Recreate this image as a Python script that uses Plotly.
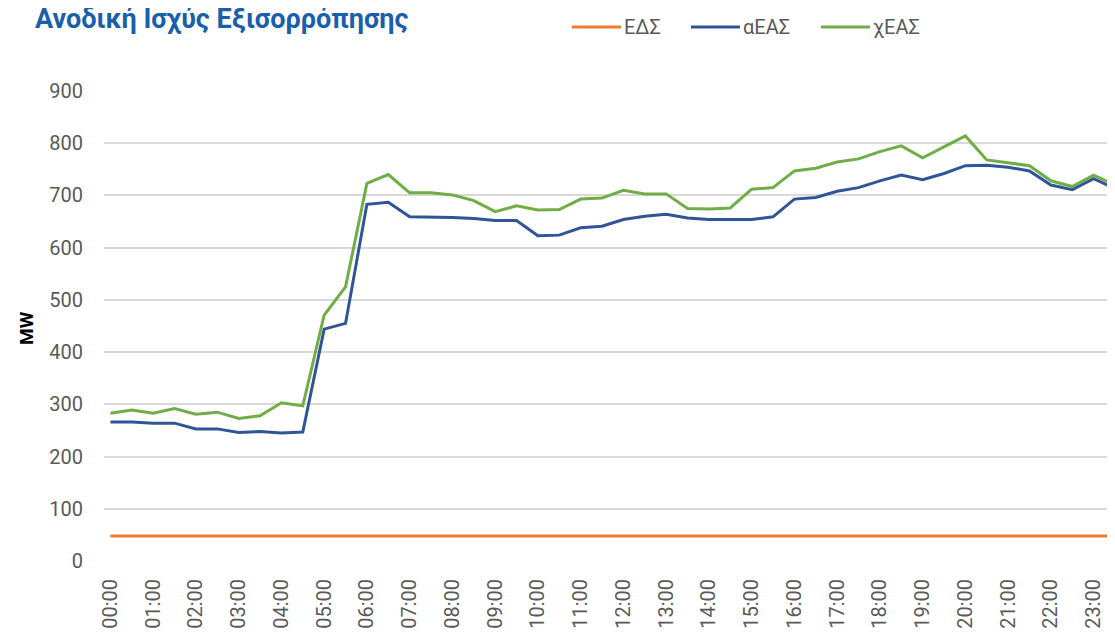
import plotly.graph_objects as go

times = [f"{h:02d}:{m:02d}" for h in range(24) for m in (0, 30)]
hour_labels = [f"{h:02d}:00" for h in range(24)]

eds = [48] * 48

aeas = [266, 266, 264, 264, 253, 253, 246, 248, 245, 247,
        444, 455, 683, 687, 659, 659, 658, 656, 652, 652,
        623, 624, 638, 641, 654, 660, 664, 657, 654, 654,
        654, 659, 693, 696, 708, 715, 728, 739, 730, 742,
        757, 758, 754, 747, 720, 711, 732, 713]

xeas = [283, 289, 283, 292, 281, 285, 273, 278, 303, 297,
        471, 525, 723, 740, 705, 705, 701, 690, 669, 680,
        672, 673, 693, 695, 710, 703, 703, 675, 674, 676,
        712, 715, 747, 752, 764, 770, 784, 795, 772, 793,
        814, 768, 762, 757, 728, 717, 739, 720]

series = [("ΕΔΣ", eds, "#ED7D31"), ("αΕΑΣ", aeas, "#2F5597"), ("χΕΑΣ", xeas, "#70AD47")]

fig = go.Figure()
for name, vals, col in series:
    fig.add_trace(go.Scatter(x=times, y=vals, mode="lines", name=name,
                             line=dict(color=col, width=3), showlegend=False))

OFF = 8  # page body margin
W, H = 1115 - OFF, 637 - 2 * OFF
L, R, T = 104 - OFF, 0, 91 - OFF
B = H - (561 - OFF)
pw, ph = W - L - R, H - T - B


def px(x):  # page pixel x -> paper
    return (x - OFF - L) / pw


def py(y):  # page pixel y -> paper
    return (H - B - (y - OFF)) / ph


# custom legend
leg = [("ΕΔΣ", "#ED7D31", 572), ("αΕΑΣ", "#2F5597", 691), ("χΕΑΣ", "#70AD47", 821)]
for name, col, x0 in leg:
    fig.add_shape(type="line", xref="paper", yref="paper", x0=px(x0), x1=px(x0 + 49),
                  y0=py(27), y1=py(27), line=dict(color=col, width=3))
    fig.add_annotation(xref="paper", yref="paper", x=px(x0 + 50), y=py(27), text=name,
                       showarrow=False, xanchor="left", yanchor="middle",
                       font=dict(size=20, color="#595959"))

fig.add_annotation(xref="paper", yref="paper", x=px(26), y=py(328), text="<b>MW</b>",
                   textangle=-90, showarrow=False, xanchor="center", yanchor="middle",
                   font=dict(size=19, color="#000000"))

fig.update_layout(
    width=W, height=H,
    margin=dict(l=L, r=R, t=T, b=B, pad=0),
    paper_bgcolor="white", plot_bgcolor="white",
    font=dict(family="Roboto", size=20, color="#595959"),
    title=dict(text="<b>Ανοδική Ισχύς Εξισορρόπησης</b>", xref="container", yref="container",
               x=(35 - OFF) / W, y=1 - (19 - OFF) / H, xanchor="left", yanchor="middle",
               font=dict(size=27, color="#1A5FAB", family="Roboto")),
)
fig.update_xaxes(type="category", categoryorder="array", categoryarray=times,
                 range=[-0.3, 47.0], tickvals=hour_labels, ticktext=hour_labels,
                 tickangle=-90, showgrid=False, zeroline=False, showline=False,
                 ticks="", ticklabelstandoff=13, tickfont=dict(size=20, color="#595959"))
fig.update_yaxes(range=[0, 900], dtick=100, showgrid=True, gridcolor="#D9D9D9", gridwidth=1.5,
                 zeroline=False, showline=False, ticks="", ticklabelstandoff=20,
                 tickfont=dict(size=20, color="#595959"))

fig.write_html("out.html")
